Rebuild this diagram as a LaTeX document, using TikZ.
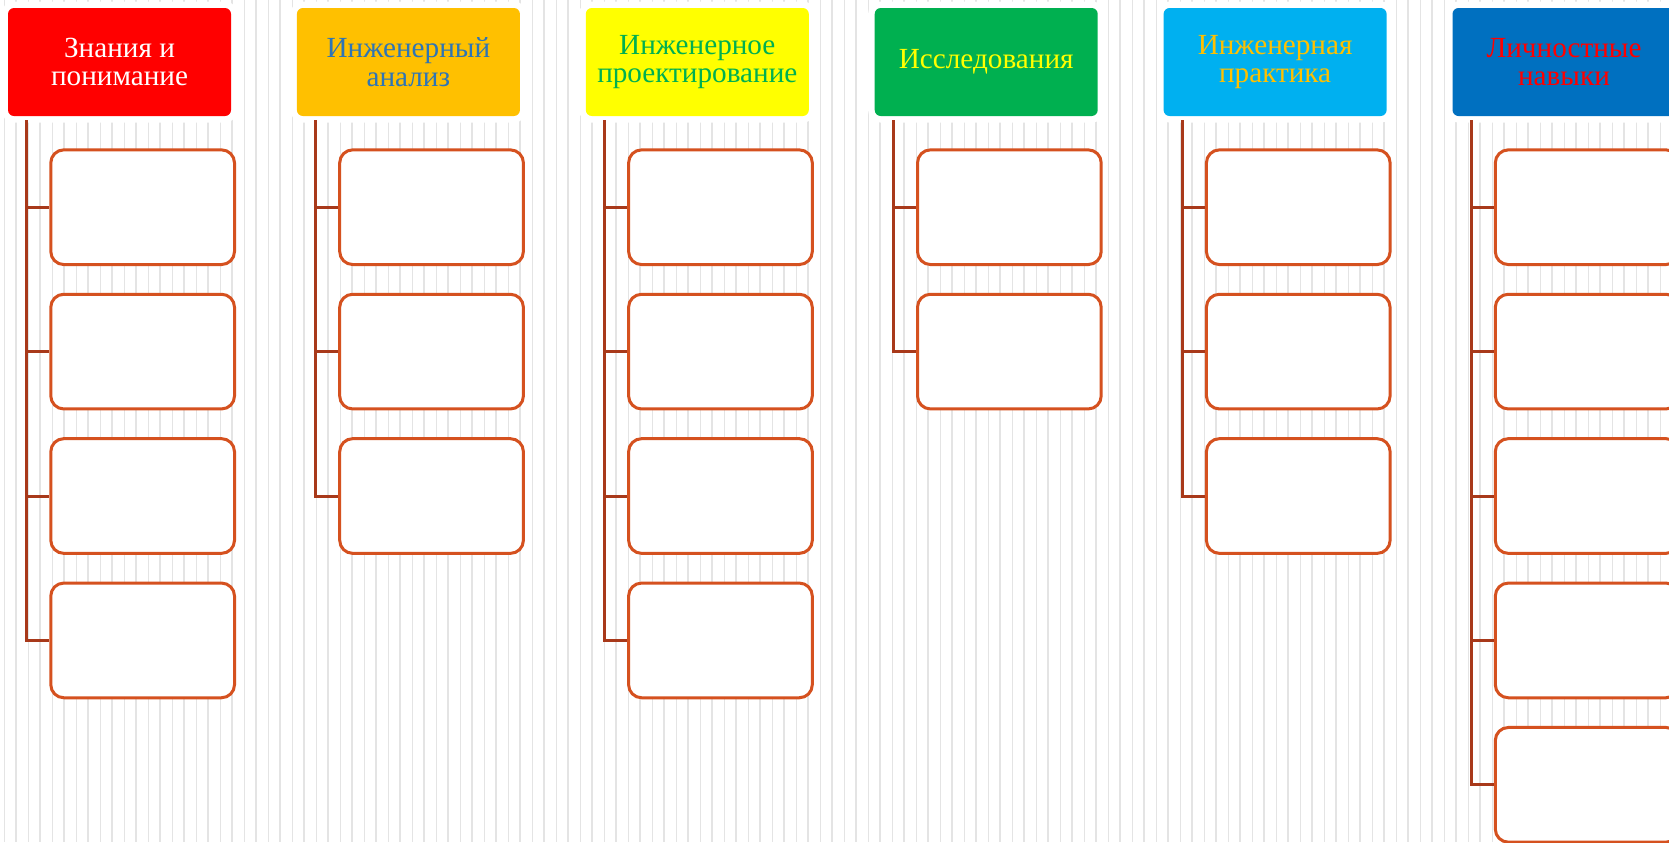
\documentclass[tikz,border=0pt]{standalone}
\usepackage{fontspec}
\setmainfont{Liberation Serif}
\usetikzlibrary{positioning}

\definecolor{stripe}{HTML}{E4E4E4}
\definecolor{boxline}{HTML}{D5511F}
\definecolor{linkline}{HTML}{A8391A}
\definecolor{hdrred}{HTML}{FF0000}
\definecolor{hdramber}{HTML}{FFC000}
\definecolor{hdryellow}{HTML}{FFFF00}
\definecolor{hdrgreen}{HTML}{00B050}
\definecolor{hdrcyan}{HTML}{00B0F0}
\definecolor{hdrblue}{HTML}{0070C0}
\definecolor{txtblue}{HTML}{2E75B6}

\tikzset{
  header/.style={rounded corners=3pt, minimum width=111.5pt, minimum height=54pt,
    inner sep=0pt, align=center, font=\fontsize{14.6}{14.4}\selectfont,
    preaction={draw=white, line width=6.5pt}},
  item/.style={draw=boxline, line width=1.5pt, fill=white, rounded corners=6.5pt,
    minimum width=91.85pt, minimum height=57.35pt},
  link/.style={draw=linkline, line width=1.5pt}
}

\begin{document}
\begin{tikzpicture}[x=0.5pt, y=0.5pt, node distance=13.35pt]
                  % Page
                  \useasboundingbox (0,0) rectangle (1669,-842);
                  \fill[white] (0,0) rectangle (1669,-842);
                  \clip (0,0) rectangle (1669,-842);

                  % Background stripes
                  \foreach \i in {0,...,69} {
                    \draw[stripe, line width=0.5pt] ({4.7+24*\i},0) -- ({4.7+24*\i},-842);
                    \draw[stripe, line width=1pt] ({16+24*\i},0) -- ({16+24*\i},-842);
                  }

                  % Headers
                  \node[header, fill=hdrred, text=white] (h1) at (119.5,-62) {Знания и\\понимание};
                  \node[header, fill=hdramber, text=txtblue] (h2) at (408.4,-62) {Инженерный\\анализ};
                  \node[header, fill=hdryellow, text=hdrgreen] (h3) at (697.3,-62) {Инженерное\\проектирование};
                  \node[header, fill=hdrgreen, text=hdryellow] (h4) at (986.2,-62) {Исследования};
                  \node[header, fill=hdrcyan, text=hdramber] (h5) at (1275.1,-62) {Инженерная\\практика};
                  \node[header, fill=hdrblue, text=hdrred] (h6) at (1564,-62) {Личностные\\навыки};

                  % Items
                  \node[item] (a1) at (142.65,-207.2) {};
                  \node[item, below=of a1] (a2) {};
                  \node[item, below=of a2] (a3) {};
                  \node[item, below=of a3] (a4) {};

                  \node[item] (b1) at (431.55,-207.2) {};
                  \node[item, below=of b1] (b2) {};
                  \node[item, below=of b2] (b3) {};

                  \node[item] (c1) at (720.45,-207.2) {};
                  \node[item, below=of c1] (c2) {};
                  \node[item, below=of c2] (c3) {};
                  \node[item, below=of c3] (c4) {};

                  \node[item] (d1) at (1009.35,-207.2) {};
                  \node[item, below=of d1] (d2) {};

                  \node[item] (e1) at (1298.25,-207.2) {};
                  \node[item, below=of e1] (e2) {};
                  \node[item, below=of e2] (e3) {};

                  \node[item] (f1) at (1587.15,-207.2) {};
                  \node[item, below=of f1] (f2) {};
                  \node[item, below=of f2] (f3) {};
                  \node[item, below=of f3] (f4) {};
                  \node[item, below=of f4] (f5) {};

                  % Trunks
                  \coordinate (ta) at (26.7,-120);
                  \coordinate (tb) at (315.6,-120);
                  \coordinate (tc) at (604.5,-120);
                  \coordinate (td) at (893.4,-120);
                  \coordinate (te) at (1182.3,-120);
                  \coordinate (tf) at (1471.2,-120);

                  % Links
                  \draw[link] (ta) |- (a1.west);
                  \draw[link] (ta) |- (a2.west);
                  \draw[link] (ta) |- (a3.west);
                  \draw[link] (ta) |- (a4.west);
                  \draw[link] (tb) |- (b1.west);
                  \draw[link] (tb) |- (b2.west);
                  \draw[link] (tb) |- (b3.west);
                  \draw[link] (tc) |- (c1.west);
                  \draw[link] (tc) |- (c2.west);
                  \draw[link] (tc) |- (c3.west);
                  \draw[link] (tc) |- (c4.west);
                  \draw[link] (td) |- (d1.west);
                  \draw[link] (td) |- (d2.west);
                  \draw[link] (te) |- (e1.west);
                  \draw[link] (te) |- (e2.west);
                  \draw[link] (te) |- (e3.west);
                  \draw[link] (tf) |- (f1.west);
                  \draw[link] (tf) |- (f2.west);
                  \draw[link] (tf) |- (f3.west);
                  \draw[link] (tf) |- (f4.west);
                  \draw[link] (tf) |- (f5.west);

\end{tikzpicture}
\end{document}
